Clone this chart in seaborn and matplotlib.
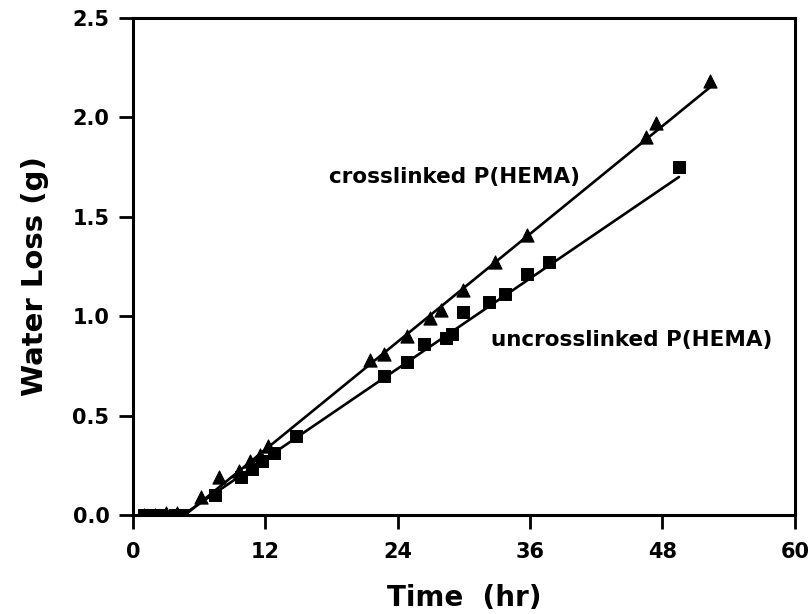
import matplotlib
matplotlib.use("Agg")
import matplotlib.pyplot as plt
import seaborn as sns
import pandas as pd

# crosslinked P(HEMA) (triangles)
cross_t = [1, 2, 3, 4, 6.2, 7.8, 9.6, 10.6, 11.5, 12.2, 21.5, 22.8, 24.8, 26.9, 27.9, 29.9, 32.8, 35.7, 46.5, 47.4, 52.3]
cross_v = [0.0, 0.0, 0.01, 0.01, 0.09, 0.19, 0.22, 0.27, 0.30, 0.35, 0.78, 0.81, 0.90, 0.99, 1.03, 1.13, 1.27, 1.41, 1.90, 1.97, 2.18]

# uncrosslinked P(HEMA) (squares)
unc_t = [1, 1.7, 2.4, 3.8, 4.4, 7.4, 9.8, 10.8, 11.7, 12.8, 14.8, 22.8, 24.8, 26.4, 28.4, 28.9, 29.9, 32.3, 33.7, 35.7, 37.7, 49.5]
unc_v = [0.0, 0.0, 0.0, 0.0, 0.0, 0.10, 0.19, 0.23, 0.27, 0.31, 0.40, 0.70, 0.77, 0.86, 0.89, 0.91, 1.02, 1.07, 1.11, 1.21, 1.27, 1.75]

# fitted lines (endpoints)
cross_fit_t = [4.7, 52.3]
cross_fit_v = [0.0, 2.15]
unc_fit_t = [4.5, 49.5]
unc_fit_v = [0.0, 1.70]

xticks = [0, 12, 24, 36, 48, 60]
yticks = [0.0, 0.5, 1.0, 1.5, 2.0, 2.5]

sns.set_style("ticks")
plt.rcParams['font.family'] = ['DejaVu Sans']
plt.rcParams['font.weight'] = 'bold'

fig = plt.figure(figsize=(8.11, 6.14), dpi=100)
ax = fig.add_axes([0.164, 0.161, 0.816, 0.81])

df_c = pd.DataFrame({"t": cross_t, "v": cross_v})
df_u = pd.DataFrame({"t": unc_t, "v": unc_v})
df_cf = pd.DataFrame({"t": cross_fit_t, "v": cross_fit_v})
df_uf = pd.DataFrame({"t": unc_fit_t, "v": unc_fit_v})

sns.lineplot(data=df_cf, x="t", y="v", ax=ax, color="black", linewidth=1.9)
sns.lineplot(data=df_uf, x="t", y="v", ax=ax, color="black", linewidth=1.9)
sns.scatterplot(data=df_c, x="t", y="v", ax=ax, marker="^", s=90, color="black", edgecolor="black", zorder=3)
sns.scatterplot(data=df_u, x="t", y="v", ax=ax, marker="s", s=75, color="black", edgecolor="black", zorder=3)

ax.set_xlim(0, 60)
ax.set_ylim(0, 2.5)
ax.set_xticks(xticks)
ax.set_yticks(yticks)
ax.set_xticklabels([str(x) for x in xticks])
ax.set_yticklabels([f"{y:.1f}" for y in yticks])
ax.tick_params(axis="both", direction="out", length=10, width=2, labelsize=15, color="black", labelcolor="black")
ax.tick_params(axis="x", pad=9)
ax.tick_params(axis="y", pad=7)
for lab in ax.get_xticklabels() + ax.get_yticklabels():
    lab.set_fontweight("bold")
for sp in ax.spines.values():
    sp.set_visible(True)
    sp.set_linewidth(2.2)
    sp.set_color("black")

ax.set_xlabel("Time  (hr)", fontsize=20, fontweight="bold", va="center", color="black")
ax.set_ylabel("Water Loss (g)", fontsize=21, fontweight="bold", va="center", color="black")
ax.xaxis.set_label_coords(0.5, -0.167)
ax.yaxis.set_label_coords(-0.148, 0.48)

ax.text(17.8, 1.70, "crosslinked P(HEMA)", fontsize=15.5, fontweight="bold", va="center", ha="left", color="black")
ax.text(32.5, 0.88, "uncrosslinked P(HEMA)", fontsize=15.5, fontweight="bold", va="center", ha="left", color="black")

fig.savefig("out.png", dpi=100)
